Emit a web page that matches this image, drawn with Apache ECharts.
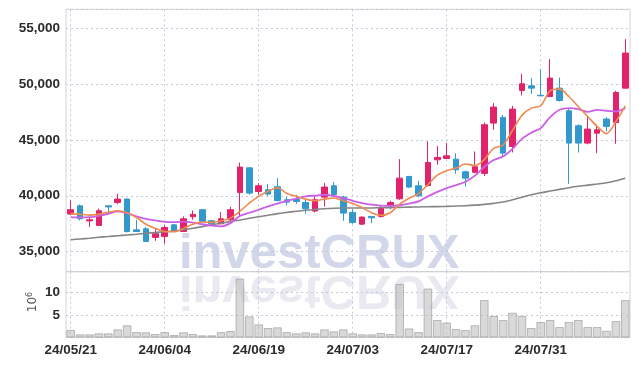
<!DOCTYPE html>
<html>
<head>
<meta charset="utf-8">
<script src="https://cdn.jsdelivr.net/npm/echarts@6/dist/echarts.min.js"></script>
<style>
html,body{margin:0;padding:0;background:#fff;}
#chart{width:639px;height:366px;}
</style>
</head>
<body>
<div id="chart"></div>
<script>
const dates = ['24/05/21','24/05/22','24/05/23','24/05/24','24/05/27','24/05/28','24/05/29','24/05/30','24/05/31','24/06/03',
  '24/06/04','24/06/05','24/06/07','24/06/10','24/06/11','24/06/12','24/06/13','24/06/14','24/06/17','24/06/18',
  '24/06/19','24/06/20','24/06/21','24/06/24','24/06/25','24/06/26','24/06/27','24/06/28','24/07/01','24/07/02',
  '24/07/03','24/07/04','24/07/05','24/07/08','24/07/09','24/07/10','24/07/11','24/07/12','24/07/15','24/07/16',
  '24/07/17','24/07/18','24/07/19','24/07/22','24/07/23','24/07/24','24/07/25','24/07/26','24/07/29','24/07/30',
  '24/07/31','24/08/01','24/08/02','24/08/05','24/08/06','24/08/07','24/08/08','24/08/09','24/08/12','24/08/13'];

const opens = [38360,39100,37750,37340,39100,39400,39700,36950,37045,36270,
  36360,37400,36800,38120,38750,37760,37490,37850,40300,42500,
  40385,40540,40810,39640,39700,39400,38630,39880,40895,39880,
  38510,37460,38150,38150,39100,39730,41730,40900,40920,43220,
  43340,43280,42150,42100,42000,46510,47020,44410,49430,49850,
  49000,48890,49640,47610,46270,44720,45610,46870,46560,49640];
const closes = [38750,37940,37850,38660,39000,39700,36800,36800,35910,36600,
  37160,36800,37940,38330,37700,37490,37940,38750,42570,40240,
  40895,40150,39580,39435,39490,38840,39640,40780,40120,38450,
  37610,38090,38030,38900,39400,41580,40780,40000,42980,43430,
  43580,42330,41580,42600,46360,47940,43820,47760,50030,49640,
  48950,50540,48530,44720,44720,45970,45910,46210,49250,52780];
const lows = [38330,37790,37200,37300,38360,39250,36700,36780,35900,35970,
  35700,36750,36750,37850,37650,37300,37450,37600,38150,40090,
  40090,40000,39490,39130,39280,38390,38510,39040,40000,37760,
  37490,37400,37550,38060,38800,39640,40700,39880,40830,42780,
  43300,41970,40830,42030,41760,45910,43580,43880,48980,49130,
  48950,48890,48440,41070,43880,44600,43820,45760,44660,49640];
const highs = [39580,39220,38000,38860,39120,40180,39800,37850,37200,37100,
  37400,37450,38150,38680,38750,37850,38540,39000,42980,42550,
  41140,41050,41580,39880,40090,39640,40000,41140,41250,40000,
  38810,38150,38150,39130,39550,43280,41780,41340,44880,44450,
  44720,43800,42260,43970,46560,48300,47250,48060,50920,50540,
  51340,52240,50590,47850,46400,47040,46360,47040,49400,54030];

const volumes = [1.65,0.7,0.7,0.92,0.92,1.8,2.7,1.2,1.15,0.77,
  1.2,0.55,1.15,0.77,0.48,0.48,1.2,1.43,13.0,4.66,
  2.9,2.1,2.25,1.2,0.92,1.15,0.92,1.8,1.36,1.8,
  0.92,0.7,0.7,1.0,0.77,11.8,2.0,1.2,10.8,3.85,
  3.27,1.87,1.65,2.7,8.26,4.74,3.85,5.46,4.74,2.1,
  3.41,3.85,2.31,3.41,3.85,2.31,2.31,1.5,3.63,8.26];

const maShort = [38400,38350,38270,38360,38520,38660,38480,38050,37450,37070,
  36800,36780,37080,37450,37650,37620,37760,38000,38600,39350,
  39950,40400,40720,40200,39950,39700,39550,39700,39800,39560,
  39300,38950,38480,38250,38480,39250,39780,40200,41000,41850,
  42250,42480,42840,42700,43250,44250,44550,45850,47200,47850,
  48060,49400,49550,48890,47990,47100,46210,45560,46650,48060];
const maMid = [38090,38060,38080,38210,38390,38600,38450,38150,37940,37790,
  37670,37640,37680,37600,37450,37320,37260,37550,38200,38480,
  38750,39050,39300,39550,39750,39940,40020,40090,39980,39800,
  39550,39350,39200,39120,39100,39150,39300,39500,39950,40350,
  40690,40950,41250,41800,42600,43200,43520,44200,45100,45650,
  46060,47040,47700,47850,47760,47520,47700,47610,47550,47850];
const maLong = [36060,36130,36200,36280,36350,36420,36490,36560,36640,36710,
  36780,36850,36960,37090,37240,37400,37550,37690,37830,37980,
  38120,38260,38400,38510,38610,38710,38780,38840,38880,38900,
  38900,38910,38910,38930,38940,38960,38980,39000,39020,39030,
  39050,39080,39110,39160,39230,39320,39440,39640,39870,40090,
  40270,40420,40570,40720,40850,40950,41050,41160,41340,41570];

const priceTicks = [35000, 40000, 45000, 50000, 55000];
const volumeTicks = [5, 10];

const UP = '#e2236b', DOWN = '#3399cc';
const labelFont = {fontFamily: '"Liberation Sans", Arial, sans-serif', fontWeight: 'bold', fontSize: 13.5, color: '#2b2b2b'};
const gridLine = {show: true, lineStyle: {color: '#c5c9dc', type: [2, 3], width: 1}};

const candles = dates.map((d, i) => [opens[i], closes[i], lows[i], highs[i]]);

const chart = echarts.init(document.getElementById('chart'), null, {renderer: 'canvas'});
chart.setOption({
  animation: false,
  backgroundColor: '#fff',
  grid: [
    {left: 66, right: 9, top: 9.3, height: 262.4, show: true, borderColor: '#d4d4d4', borderWidth: 1, backgroundColor: 'transparent'},
    {left: 66, right: 9, top: 271.7, height: 65.8, show: true, borderColor: '#d4d4d4', borderWidth: 1, backgroundColor: 'transparent'}
  ],
  graphic: [
    {type: 'text', z: -10, x: 179, y: 278.7,
     style: {text: 'investCRUX', x: 0, y: 0, textVerticalAlign: 'bottom', fill: '#d2d7e9',
       font: 'bold 49px "Liberation Sans", Arial, sans-serif'}},
    {type: 'text', z: -10, x: 179, y: 264.7, scaleY: -1,
     style: {text: 'investCRUX', x: 0, y: 0, textVerticalAlign: 'bottom', fill: '#e9eaf1',
       font: 'bold 49px "Liberation Sans", Arial, sans-serif'}},
    {type: 'text', x: 33, y: 302, rotation: Math.PI / 2,
     style: {text: '{a|10}{b|6}', textAlign: 'center', textVerticalAlign: 'middle',
       rich: {a: {fontFamily: '"DejaVu Sans",sans-serif', fontSize: 12, fill: '#555'},
              b: {fontFamily: '"DejaVu Sans",sans-serif', fontSize: 8, fill: '#555', verticalAlign: 'top', padding: [0, 0, 6, 0]}}}}
  ],
  xAxis: [
    {type: 'category', gridIndex: 0, data: dates, boundaryGap: true,
     axisLine: {show: false}, axisTick: {show: false}, axisLabel: {show: false},
     splitLine: Object.assign({interval: 9, alignWithLabel: true}, gridLine)},
    {type: 'category', gridIndex: 1, data: dates, boundaryGap: true,
     axisLine: {show: false}, axisTick: {show: false},
     axisLabel: Object.assign({interval: 9, margin: 6}, labelFont),
     splitLine: Object.assign({interval: 9, alignWithLabel: true}, gridLine)}
  ],
  yAxis: [
    {type: 'value', gridIndex: 0, min: 33200, max: 56700, splitNumber: 5,
     axisLine: {show: false}, axisTick: {show: false},
     axisLabel: Object.assign({margin: 6, showMinLabel: false, showMaxLabel: false,
       formatter: v => priceTicks.includes(v) ? v.toLocaleString('en-US') : ''}, labelFont),
     splitLine: gridLine},
    {type: 'value', gridIndex: 1, min: 0, max: 14.5, interval: 5,
     axisLine: {show: false}, axisTick: {show: false},
     axisLabel: Object.assign({margin: 6, showMinLabel: false, showMaxLabel: false,
       formatter: v => volumeTicks.includes(v) ? String(v) : ''}, labelFont),
     splitLine: gridLine}
  ],
  series: [
    {type: 'candlestick', xAxisIndex: 0, yAxisIndex: 0, data: candles, barWidth: 6,
     itemStyle: {color: UP, color0: DOWN, borderColor: UP, borderColor0: DOWN, borderWidth: 1}},
    {type: 'line', xAxisIndex: 0, yAxisIndex: 0, data: maLong, showSymbol: false, smooth: 0.3,
     lineStyle: {color: '#858585', width: 1.6}},
    {type: 'line', xAxisIndex: 0, yAxisIndex: 0, data: maMid, showSymbol: false, smooth: 0.3,
     lineStyle: {color: '#cc5fe8', width: 1.8}},
    {type: 'line', xAxisIndex: 0, yAxisIndex: 0, data: maShort, showSymbol: false, smooth: 0.3,
     lineStyle: {color: '#ef8a4f', width: 1.6}},
    {type: 'bar', xAxisIndex: 1, yAxisIndex: 1, data: volumes, barCategoryGap: '8%',
     itemStyle: {color: 'rgba(185,185,185,0.55)', borderColor: 'rgba(140,140,140,0.55)', borderWidth: 1}}
  ]
});
</script>
</body>
</html>
